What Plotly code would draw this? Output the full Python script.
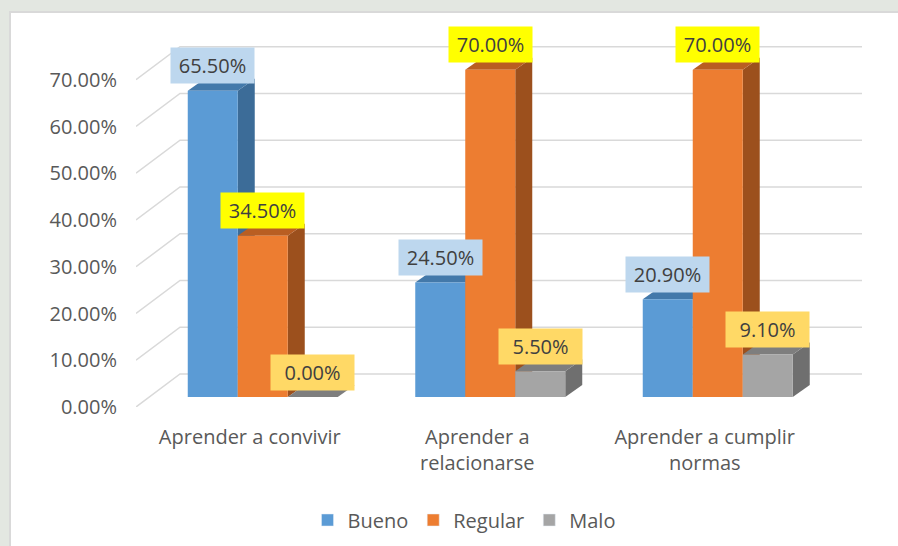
import plotly.graph_objects as go

# ---------------- data ----------------
categories = ["Aprender a convivir", "Aprender a<br>relacionarse", "Aprender a cumplir<br>normas"]
series_names = ["Bueno", "Regular", "Malo"]
bueno = [65.5, 24.5, 20.9]
regular = [34.5, 70.0, 70.0]
malo = [0.0, 5.5, 9.1]
y_ticks = [0, 10, 20, 30, 40, 50, 60, 70]
y_tick_labels = ["0.00%", "10.00%", "20.00%", "30.00%", "40.00%", "50.00%", "60.00%", "70.00%"]

# ---------------- styling / geometry ----------------
W, H = 898, 546
M_L, M_R, M_T, M_B = 136, 36, 33, 139
PLOT_W = W - M_L - M_R
PLOT_H = H - M_T - M_B
Y_MAX = 80.0
PX_Y = PLOT_H / Y_MAX          # px per percent
PX_X = 227.5                   # px per category
X_MIN = -0.5
X_MAX = X_MIN + PLOT_W / PX_X

WALL_DX, WALL_DY = 44 / PX_X, 33 / PX_Y
BAR_DX, BAR_DY = 13 / PX_X, 10 / PX_Y
SIDE_DX, SIDE_DY = 17 / PX_X, 12 / PX_Y
BAR_W = 50 / PX_X

front_cols = ["#5B9BD5", "#ED7D31", "#A5A5A5"]
side_cols = ["#3C6C98", "#9C501D", "#6F6F6F"]
top_cols = ["#4379AA", "#B95E22", "#7E7E7E"]
label_bg = ["#BDD7EE", "#FFFF00", "#FFD966"]
grid_col = "#D9D9D9"
text_col = "#595959"
FONT = "Open Sans"
FS = 20

values = [bueno, regular, malo]

fig = go.Figure()

# gridlines: back wall + side diagonal
for v in y_ticks:
    fig.add_trace(go.Scatter(
        x=[X_MIN, X_MIN + WALL_DX, len(categories) - 0.5 + WALL_DX],
        y=[v, v + WALL_DY, v + WALL_DY],
        mode="lines", line=dict(color=grid_col, width=1.5),
        hoverinfo="skip", showlegend=False))

def poly(xs, ys, color):
    fig.add_trace(go.Scatter(
        x=xs + [xs[0]], y=ys + [ys[0]], mode="lines", fill="toself",
        fillcolor=color, line=dict(width=0, color=color),
        hoverinfo="skip", showlegend=False))

annotations = []
for i in range(len(categories)):
    for k in range(len(series_names)):
        v = values[k][i]
        x0 = i + BAR_DX + (k - 1.5) * BAR_W
        x1 = x0 + BAR_W
        b = BAR_DY
        t = BAR_DY + v
        # side
        poly([x1, x1, x1 + SIDE_DX, x1 + SIDE_DX], [b, t, t + SIDE_DY, b + SIDE_DY], side_cols[k])
        # top
        poly([x0, x1, x1 + SIDE_DX, x0 + SIDE_DX], [t, t, t + SIDE_DY, t + SIDE_DY], top_cols[k])
        # front
        if v > 0:
            poly([x0, x1, x1, x0], [b, b, t, t], front_cols[k])
        annotations.append(dict(
            x=(x0 + x1) / 2, y=t, xref="x", yref="y", text=f"{v:.2f}%",
            showarrow=False, yshift=25, yanchor="middle", xanchor="center",
            bgcolor=label_bg[k], borderpad=6, width=71, height=23,
            font=dict(family=FONT, size=FS, color="#404040")))

# legend entries
for k, name in enumerate(series_names):
    fig.add_trace(go.Bar(x=[None], y=[None], name=name, marker_color=front_cols[k]))

frame = dict(type="rect", xref="paper", yref="paper",
             x0=(10 - M_L) / PLOT_W, x1=1.3,
             y0=-0.6, y1=(H - M_B - 12) / PLOT_H,
             fillcolor="white", line=dict(color="#D9D9D9", width=2), layer="below")

fig.update_layout(
    width=W, height=H,
    margin=dict(l=M_L, r=M_R, t=M_T, b=M_B, autoexpand=False),
    paper_bgcolor="#E3E7E1", plot_bgcolor="rgba(0,0,0,0)",
    font=dict(family=FONT, color=text_col, size=FS),
    shapes=[frame],
    annotations=annotations,
    showlegend=True,
    legend=dict(orientation="h", x=(464 - M_L) / PLOT_W, xanchor="center",
                y=(H - M_B - 520) / PLOT_H, yanchor="middle",
                font=dict(family=FONT, size=FS, color=text_col),
                bgcolor="rgba(0,0,0,0)", itemwidth=30),
    xaxis=dict(range=[X_MIN, X_MAX], tickvals=list(range(len(categories))), ticktext=categories,
               showgrid=False, zeroline=False, showline=False, ticks="", automargin=False,
               tickfont=dict(family=FONT, size=FS, color=text_col), ticklabelstandoff=16),
    yaxis=dict(range=[0, Y_MAX], tickvals=y_ticks, ticktext=y_tick_labels,
               showgrid=False, zeroline=False, showline=False, ticks="", automargin=False,
               tickfont=dict(family=FONT, size=FS, color=text_col), ticklabelstandoff=18),
)

fig.write_html("out.html", config={"displayModeBar": False},
               post_script="document.body.style.margin='0';document.body.style.padding='0';")
